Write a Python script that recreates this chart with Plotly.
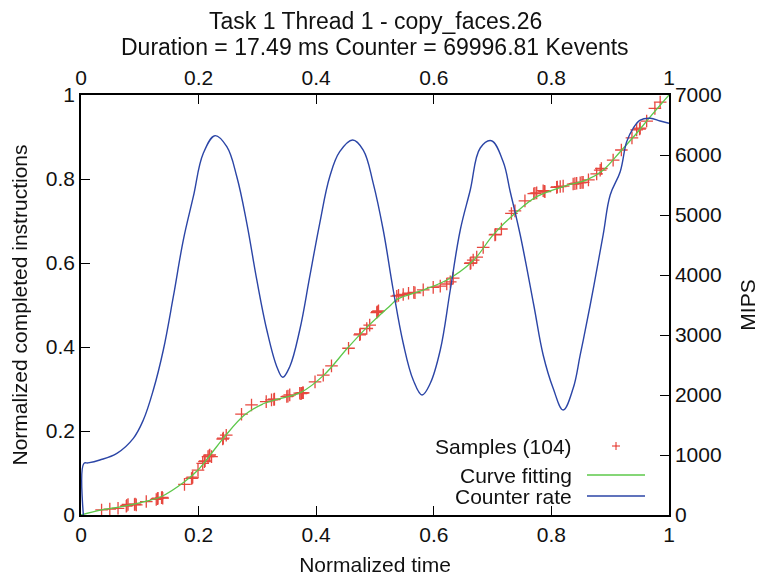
import plotly.graph_objects as go

# ---- data ----
sample_t = [0.035, 0.049, 0.063, 0.077, 0.080, 0.091, 0.094, 0.111, 0.128, 0.131,
            0.137, 0.139, 0.176, 0.188, 0.190, 0.199, 0.207, 0.210, 0.216, 0.219,
            0.222, 0.241, 0.247, 0.273, 0.290, 0.315, 0.324, 0.329, 0.350, 0.355,
            0.372, 0.375, 0.378, 0.398, 0.412, 0.426, 0.455, 0.474, 0.486, 0.491,
            0.503, 0.506, 0.537, 0.548, 0.557, 0.568, 0.582, 0.599, 0.611, 0.622,
            0.628, 0.633, 0.662, 0.667, 0.673, 0.684, 0.704, 0.715, 0.732, 0.738,
            0.755, 0.772, 0.775, 0.786, 0.789, 0.809, 0.815, 0.820, 0.837, 0.843,
            0.849, 0.854, 0.863, 0.877, 0.883, 0.885, 0.905, 0.919, 0.937, 0.945,
            0.951, 0.962, 0.976, 0.985,
            0.078, 0.092, 0.130, 0.138, 0.189, 0.211, 0.218, 0.242, 0.328, 0.352,
            0.374, 0.377, 0.475, 0.504, 0.540, 0.566, 0.663, 0.705, 0.770, 0.788,
            0.810, 0.840, 0.852, 0.950]
sample_v = [0.012, 0.014, 0.016, 0.021, 0.025, 0.025, 0.024, 0.032, 0.037, 0.040,
            0.041, 0.040, 0.073, 0.087, 0.090, 0.107, 0.123, 0.127, 0.139, 0.143,
            0.139, 0.181, 0.190, 0.240, 0.262, 0.270, 0.274, 0.276, 0.282, 0.286,
            0.290, 0.290, 0.291, 0.317, 0.333, 0.355, 0.397, 0.429, 0.444, 0.452,
            0.482, 0.486, 0.521, 0.525, 0.528, 0.529, 0.536, 0.542, 0.545, 0.550,
            0.555, 0.564, 0.599, 0.607, 0.614, 0.637, 0.667, 0.681, 0.718, 0.724,
            0.748, 0.766, 0.767, 0.772, 0.770, 0.780, 0.782, 0.783, 0.788, 0.790,
            0.791, 0.792, 0.798, 0.812, 0.821, 0.825, 0.845, 0.869, 0.898, 0.917,
            0.921, 0.938, 0.968, 0.983,
            0.023, 0.026, 0.039, 0.042, 0.088, 0.129, 0.141, 0.183, 0.275, 0.283,
            0.289, 0.291, 0.431, 0.484, 0.523, 0.530, 0.600, 0.668, 0.765, 0.771,
            0.781, 0.789, 0.792, 0.919]

fit_t = [0.0, 0.035, 0.069, 0.108, 0.137, 0.176, 0.199, 0.222, 0.244, 0.278,
         0.312, 0.335, 0.374, 0.413, 0.453, 0.487, 0.527, 0.538, 0.583, 0.623,
         0.668, 0.701, 0.741, 0.775, 0.820, 0.860, 0.888, 0.917, 0.945, 0.968, 1.0]
fit_v = [0.0, 0.012, 0.020, 0.032, 0.044, 0.079, 0.107, 0.147, 0.186, 0.238,
         0.266, 0.276, 0.292, 0.333, 0.397, 0.448, 0.500, 0.514, 0.536, 0.560,
         0.607, 0.667, 0.722, 0.758, 0.782, 0.798, 0.821, 0.865, 0.909, 0.948, 1.0]

rate_t = [0.004, 0.005, 0.012, 0.032, 0.061, 0.089, 0.106, 0.123, 0.140, 0.157,
          0.174, 0.191, 0.208, 0.228, 0.248, 0.265, 0.282, 0.299, 0.316, 0.333,
          0.343, 0.355, 0.372, 0.389, 0.406, 0.423, 0.440, 0.462, 0.480, 0.497,
          0.514, 0.531, 0.548, 0.565, 0.580, 0.594, 0.611, 0.628, 0.645, 0.662,
          0.679, 0.698, 0.718, 0.730, 0.747, 0.770, 0.786, 0.803, 0.820, 0.837,
          0.849, 0.866, 0.888, 0.900, 0.917, 0.928, 0.939, 0.951, 0.968, 0.985,
          1.0]
rate_mips = [0, 860, 868, 917, 1028, 1278, 1583, 2083, 2750, 3638,
             4583, 5305, 6028, 6322, 6138, 5638, 4862, 3917, 3083, 2472,
             2295, 2472, 3083, 3972, 4862, 5638, 6055, 6250, 6083, 5528,
             4750, 3750, 2862, 2250, 2000, 2195, 2750, 3750, 4750, 5417,
             6117, 6238, 5888, 5388, 4667, 3500, 2667, 2112, 1750, 2112,
             2667, 3500, 4667, 5333, 5722, 6222, 6445, 6583, 6612, 6567,
             6528]

x_ticks = [0, 0.2, 0.4, 0.6, 0.8, 1]
x_tick_labels = ["0", "0.2", "0.4", "0.6", "0.8", "1"]
y_ticks = [0, 0.2, 0.4, 0.6, 0.8, 1]
y_tick_labels = ["0", "0.2", "0.4", "0.6", "0.8", "1"]
mips_ticks = [0, 1000, 2000, 3000, 4000, 5000, 6000, 7000]
mips_tick_labels = ["0", "1000", "2000", "3000", "4000", "5000", "6000", "7000"]

title_line1 = "Task 1 Thread 1 - copy_faces.26"
title_line2 = "Duration = 17.49 ms Counter = 69996.81 Kevents"
legend_labels = ["Samples (104)", "Curve fitting", "Counter rate"]

RED = "#e3261c"
GREEN = "#5cc84a"
BLUE = "#2b45a6"
FONT = "Liberation Sans"
TXT = 21

# the page body adds an 8px offset; size the figure so the plot area lands
# at page pixels x 81..669, y 95..515
OFF = 8
W, H = 767 - OFF, 576 - OFF
L, T = 81 - OFF, 95 - OFF
R = W - (669 - OFF)
B = H - (515 - OFF)

fig = go.Figure()
fig.add_trace(go.Scatter(x=sample_t, y=sample_v, mode="markers",
                         marker=dict(symbol="cross-thin", size=9,
                                     line=dict(color=RED, width=1.3)),
                         opacity=0.85, showlegend=False, hoverinfo="skip"))
fig.add_trace(go.Scatter(x=fit_t, y=fit_v, mode="lines",
                         line=dict(color=GREEN, width=1.3, shape="spline", smoothing=1.0),
                         showlegend=False, hoverinfo="skip"))
fig.add_trace(go.Scatter(x=rate_t, y=rate_mips, mode="lines", yaxis="y2",
                         line=dict(color=BLUE, width=1.4, shape="spline", smoothing=1.1),
                         showlegend=False, hoverinfo="skip"))
# invisible helper trace so the top axis is drawn
fig.add_trace(go.Scatter(x=[0, 1], y=[0, 0], xaxis="x2", mode="markers",
                         marker=dict(opacity=0), showlegend=False, hoverinfo="skip"))

axis_common = dict(showgrid=False, zeroline=False, showline=True, linecolor="black",
                   linewidth=1.5, ticks="inside", ticklen=9, tickwidth=1,
                   tickcolor="black", automargin=False,
                   tickfont=dict(family=FONT, size=TXT, color="#111111"))

fig.update_layout(
    width=W, height=H,
    margin=dict(l=L, r=R, t=T, b=B, autoexpand=False),
    plot_bgcolor="white", paper_bgcolor="white",
    font=dict(family=FONT, size=TXT, color="#111111"),
    showlegend=False,
    xaxis=dict(range=[0, 1], tickvals=x_ticks, ticktext=x_tick_labels,
               title=dict(text="Normalized time", standoff=12,
                          font=dict(family=FONT, size=TXT)), **axis_common),
    xaxis2=dict(range=[0, 1], tickvals=x_ticks, ticktext=x_tick_labels,
                overlaying="x", side="top", anchor="y", **axis_common),
    yaxis=dict(range=[0, 1], tickvals=y_ticks, ticktext=y_tick_labels,
               title=dict(text="Normalized completed instructions", standoff=12,
                          font=dict(family=FONT, size=TXT)), **axis_common),
    yaxis2=dict(range=[0, 7000], tickvals=mips_ticks, ticktext=mips_tick_labels,
                overlaying="y", side="right", anchor="x",
                title=dict(text="MIPS", standoff=20, font=dict(family=FONT, size=TXT)),
                **axis_common),
)

plot_h = 515 - 95


def px_x(p):
    return (p - 81) / 588


def px_y(p):
    return (515 - p) / plot_h


annotations = [
    dict(text=title_line1, x=px_x(375), y=px_y(21), xref="paper", yref="paper",
         yanchor="middle", showarrow=False, font=dict(family=FONT, size=23)),
    dict(text=title_line2, x=px_x(375), y=px_y(47), xref="paper", yref="paper",
         yanchor="middle", showarrow=False, font=dict(family=FONT, size=23)),
]
legend_rows = [446, 475, 496]
for lab, row in zip(legend_labels, legend_rows):
    annotations.append(dict(text=lab, x=px_x(574), y=px_y(row),
                            xref="paper", yref="paper", xanchor="right", yanchor="middle",
                            showarrow=False, font=dict(family=FONT, size=TXT)))
fig.update_layout(annotations=annotations)

shapes = [
    dict(type="line", xref="paper", yref="paper", x0=px_x(612), x1=px_x(620),
         y0=px_y(446), y1=px_y(446), line=dict(color=RED, width=1)),
    dict(type="line", xref="paper", yref="paper", x0=px_x(616), x1=px_x(616),
         y0=px_y(442), y1=px_y(450), line=dict(color=RED, width=1)),
    dict(type="line", xref="paper", yref="paper", x0=px_x(587), x1=px_x(645),
         y0=px_y(475), y1=px_y(475), line=dict(color=GREEN, width=1.3)),
    dict(type="line", xref="paper", yref="paper", x0=px_x(587), x1=px_x(645),
         y0=px_y(496), y1=px_y(496), line=dict(color=BLUE, width=1.4)),
]
fig.update_layout(shapes=shapes)

fig.write_html("out.html")
